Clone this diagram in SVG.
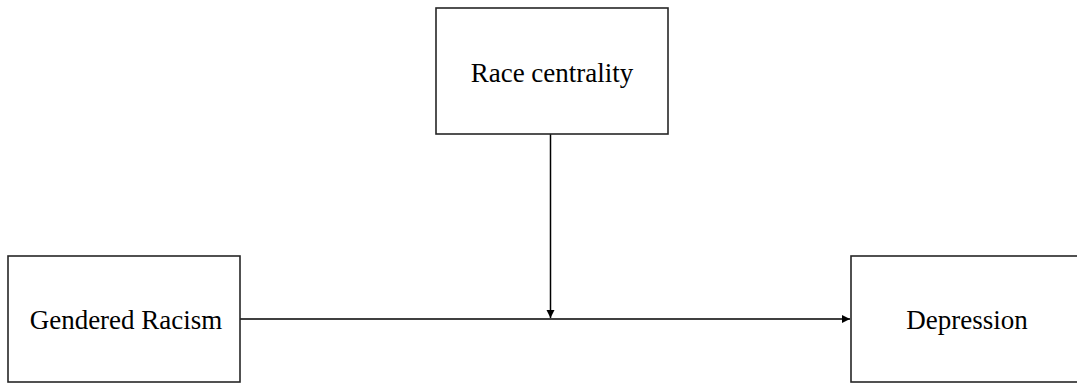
<svg xmlns="http://www.w3.org/2000/svg" width="1077" height="385" viewBox="0 0 1077 385">
  <style>
    .box { fill: #ffffff; stroke: #262626; stroke-width: 1.6; }
    .label { font-family: "Liberation Serif", "Times New Roman", serif; font-size: 27px; fill: #000000; text-anchor: middle; }
    .edge { stroke: #000000; stroke-width: 1.5; fill: none; }
  </style>
  <defs>
    <marker id="arrow" markerUnits="userSpaceOnUse" markerWidth="9" markerHeight="9" refX="8" refY="4" orient="auto">
      <path d="M0,0 L8,4 L0,8 Z" fill="#000000"/>
    </marker>
  </defs>
  <rect width="1077" height="385" fill="#ffffff"/>
  <g id="connectors">
    <line class="edge" x1="240" y1="319" x2="850" y2="319" marker-end="url(#arrow)"/>
    <line class="edge" x1="550.5" y1="134" x2="550.5" y2="318" marker-end="url(#arrow)"/>
  </g>
  <g id="node-race-centrality">
    <rect class="box" x="436" y="8" width="232" height="126"/>
    <text class="label" x="552" y="82">Race centrality</text>
  </g>
  <g id="node-gendered-racism">
    <rect class="box" x="8" y="256" width="232" height="126"/>
    <text class="label" x="126" y="329">Gendered Racism</text>
  </g>
  <g id="node-depression">
    <rect class="box" x="851" y="256" width="232" height="126"/>
    <text class="label" x="967" y="329">Depression</text>
  </g>
</svg>
